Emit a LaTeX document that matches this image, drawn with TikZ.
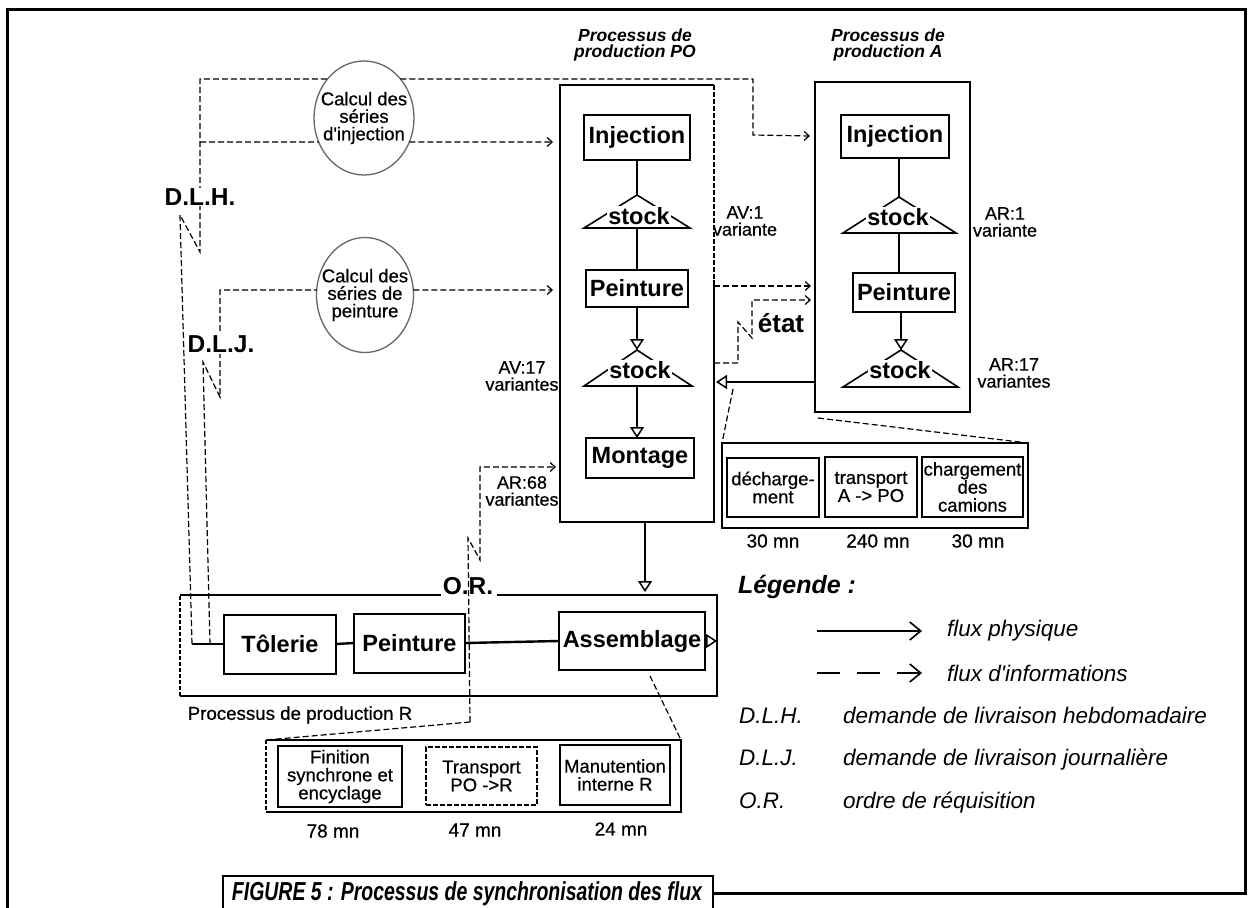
\documentclass[tikz,border=0pt]{standalone}
\usepackage{graphicx}
\usepackage{fontspec}
\setmainfont{Liberation Sans}
\newfontfamily\mediumsans[FakeBold=0.6]{Liberation Sans}
\usetikzlibrary{arrows.meta,shapes.geometric,calc}

\newcommand{\fsz}[2]{\fontsize{#1}{#2}\selectfont}

\begin{document}
\begin{tikzpicture}[x=1pt,y=-1pt,
  every node/.style={inner sep=0pt, outer sep=0pt},
  procbox/.style={draw, line width=2pt, fill=white, font=\fsz{23.5}{26}\bfseries},
  container/.style={line width=1.7pt},
  detailbox/.style={draw, line width=1.2pt, align=center, font=\mediumsans\fsz{18.5}{18}},
  stocklbl/.style={fill=white, inner xsep=1pt, inner ysep=1.5pt, font=\fsz{23.5}{26}\bfseries},
  stocktri/.style={line width=1.6pt, line join=miter},
  calcell/.style={ellipse, draw=black!60, line width=1.3pt, fill=white},
  calctxt/.style={align=center, font=\mediumsans\fsz{18.5}{17.5}},
  varlbl/.style={align=center, font=\mediumsans\fsz{18}{17}},
  bigcode/.style={fill=white, inner sep=1pt, font=\fsz{24.5}{26}\bfseries},
  proctitle/.style={align=center, font=\fsz{17.5}{16}\bfseries\itshape},
  dur/.style={font=\mediumsans\fsz{19}{20}},
  legtxt/.style={anchor=base west, font=\fsz{22.5}{24}\itshape},
  phys/.style={line width=2.4pt, -{Triangle[open, length=11pt, width=14pt, line width=1.5pt]}},
  physline/.style={line width=2.4pt},
  info/.style={line width=1.2pt, dash pattern=on 6pt off 3pt},
  infoarrow/.style={info, -{Straight Barb[length=5pt, width=9pt, line width=1.2pt]}},
]
\useasboundingbox (0,0) rectangle (1252,907);

% ---------- outer frame and caption ----------
\draw[line width=3pt] (7,910) -- (7,10) -- (1245,10) -- (1245,893) -- (713,893);
\draw[line width=2pt] (223,910) -- (223,876) -- (713,876) -- (713,910);
\node[anchor=base, font=\fsz{26}{28}\bfseries\itshape] (caption) at (467,900)
  {\resizebox{470pt}{\height}{FIGURE 5 : Processus de synchronisation des flux}};

% ---------- process PO ----------
\node (po) [minimum width=154pt, minimum height=437pt] at (637,303.5) {};
\draw[container] (714,280) -- (po.south east) -- (po.south west) -- (po.north west) -- (po.north east);
\draw[container, line width=1.2pt, dash pattern=on 5pt off 2pt] (po.north east) -- (714,280);
\node[proctitle] (potitle) at (635,45) {Processus de\\production PO};

\node[procbox, minimum width=106pt, minimum height=45pt] (poinj) at (637,137.5) {Injection};
\coordinate (pos1a) at (637,195);
\coordinate (pos1b) at (637,228);
\draw[stocktri] (pos1a) -- (584,228) -- (690,228) -- cycle;
\node[stocklbl] (pos1) at (639,216) {stock};
\node[procbox, minimum width=102pt, minimum height=37pt] (popein) at (637,288.5) {Peinture};
\coordinate (pos2a) at (637,350);
\coordinate (pos2b) at (637,386);
\draw[stocktri] (pos2a) -- (584,386) -- (692,386) -- cycle;
\node[stocklbl] (pos2) at (640,370) {stock};
\node[procbox, minimum width=108pt, minimum height=40pt] (pomont) at (640,458) {Montage};

\draw[physline] (poinj.south) -- (pos1a);
\draw[physline] (pos1b) -- (popein.north);
\draw[phys] (popein.south) -- (pos2a);
\draw[phys] (pos2b) -- (pos2b |- pomont.north);

\node[varlbl] (av1) at (745,221) {AV:1\\variante};
\node[varlbl] (av17) at (522,376) {AV:17\\variantes};
\node[varlbl] (ar68) at (522,491) {AR:68\\variantes};

% ---------- process A ----------
\node (abox) [minimum width=155pt, minimum height=330pt] at (892.5,247) {};
\draw[container] (abox.north west) rectangle (abox.south east);
\node[proctitle] (atitle) at (888,45) {Processus de\\production A};

\node[procbox, minimum width=108pt, minimum height=43pt] (ainj) at (895,136.5) {Injection};
\coordinate (as1a) at (899,197);
\coordinate (as1b) at (899,233);
\draw[stocktri] (as1a) -- (843,233) -- (956,233) -- cycle;
\node[stocklbl] (as1) at (898,217) {stock};
\node[procbox, minimum width=102pt, minimum height=39pt] (apein) at (904,292.5) {Peinture};
\coordinate (as2a) at (901,350);
\draw[stocktri] (as2a) -- (843,387) -- (958,387) -- cycle;
\node[stocklbl] (as2) at (900,370) {stock};

\draw[physline] (ainj.south -| as1a) -- (as1a);
\draw[physline] (as1b) -- (as1b |- apein.north);
\draw[phys] (apein.south -| as2a) -- (as2a);

\node[varlbl] (ar1) at (1005,222) {AR:1\\variante};
\node[varlbl] (ar17) at (1014,373) {AR:17\\variantes};

% physical flow A -> PO
\coordinate (aOut) at (815,382);
\coordinate (poIn) at (716,382);
\draw[phys] (aOut) -- (poIn);

% ---------- detail A -> PO ----------
\node (adet) [minimum width=306pt, minimum height=85pt] at (875,485.5) {};
\draw[line width=1.7pt] (adet.north west) rectangle (adet.south east);
\node[detailbox, minimum width=92pt, minimum height=59pt] (dech) at (773,487.5) {décharge-\\ment};
\node[detailbox, minimum width=92pt, minimum height=60pt] (trA) at (871,487) {transport\\A -> PO};
\node[detailbox, minimum width=101pt, minimum height=60pt] (charg) at (972.5,487) {chargement\\des\\camions};
\node[dur] (dA1) at (773,541) {30 mn};
\node[dur] (dA2) at (878,541) {240 mn};
\node[dur] (dA3) at (978,541) {30 mn};
\coordinate (aZoomL) at (733,389);
\coordinate (aZoomR) at (818,418);
\draw[info] (aZoomL) -- (adet.north west);
\draw[info] (aZoomR) -- (adet.north east);

% ---------- process R ----------
\node (rbox) [minimum width=537pt, minimum height=101pt] at (448.5,645.5) {};
\draw[line width=2pt] (rbox.north west) -- (441,595);
\draw[line width=2pt] (497,595) -- (rbox.north east) -- (rbox.south east) -- (rbox.south west);
\draw[line width=1.2pt, dash pattern=on 4pt off 2pt] (rbox.south west) -- (rbox.north west);
\node[font=\mediumsans\fsz{18.7}{20}] (rlbl) at (300,715) {Processus de production R};

\node[procbox, minimum width=112pt, minimum height=59pt] (tol) at (280,644) {Tôlerie};
\node[procbox, minimum width=111pt, minimum height=59pt] (rpein) at (409.5,643) {Peinture};
\node[procbox, minimum width=146pt, minimum height=58pt] (asm) at (632,641) {Assemblage};
\coordinate (rOut) at (717,641);
\coordinate (rIn) at (645,592);
\coordinate (dlhFoot) at (192,644);

\draw[physline] (dlhFoot) -- (tol.west);
\draw[physline] (tol.east) -- (rpein.west);
\draw[physline] (rpein.east) -- (asm.west);
\draw[phys] (asm.east) -- (rOut);
\draw[phys] (po.south -| rIn) -- (rIn);

% ---------- detail PO -> R ----------
\node (bdet) [minimum width=415pt, minimum height=72pt] at (473.5,776) {};
\draw[line width=1.7pt] (bdet.south west) -- (bdet.south east) -- (bdet.north east) -- (bdet.north west);
\draw[line width=1.2pt, dash pattern=on 4pt off 2pt] (bdet.north west) -- (bdet.south west);
\node[detailbox, minimum width=124pt, minimum height=61pt] (fin) at (340,776.5) {Finition\\synchrone et\\encyclage};
\node[detailbox, dash pattern=on 5pt off 2pt, minimum width=111pt, minimum height=58pt] (trR) at (481.5,776) {Transport\\PO ->R};
\node[detailbox, minimum width=110pt, minimum height=60pt] (manu) at (615,775) {Manutention\\interne R};
\node[dur] (dR1) at (333,831) {78 mn};
\node[dur] (dR2) at (475,830) {47 mn};
\node[dur] (dR3) at (621,829) {24 mn};

% ---------- ellipses ----------
\node[calcell, minimum width=100pt, minimum height=114pt] (e1) at (364,118) {};
\node[calctxt] (e1t) at (e1.center) {Calcul des\\séries\\d\textquotesingle injection};
\node[calcell, minimum width=97pt, minimum height=115pt] (e2) at (365,295) {};
\node[calctxt] (e2t) at (e2.center) {Calcul des\\séries de\\peinture};

% ---------- information flows ----------
% weekly delivery request
\coordinate (dlhTop) at (200,79);
\coordinate (dlhMid) at (200,142);
\coordinate (dlhZa) at (200,252);
\coordinate (dlhZb) at (180,215);
\draw[info] (dlhFoot) -- (dlhZb) -- (dlhZa) -- (dlhTop) -- (e1.133);
\draw[info] (dlhMid) -- (e1.208);
\node[bigcode] (dlh) at (200,197) {D.L.H.};

\coordinate (aTurn1) at (753,79);
\coordinate (aTurn2) at (753,135);
\coordinate (aIn1) at (810,136);
\draw[infoarrow] (e1.47) -- (aTurn1) -- (aTurn2) -- (aIn1);
\coordinate (poIn1) at (553,142);
\draw[infoarrow] (e1.332) -- (poIn1);

% daily delivery request
\coordinate (dljTop) at (220,290);
\coordinate (dljZa) at (220,397);
\coordinate (dljZb) at (203,362);
\coordinate (dljFoot) at (210,644);
\draw[info] (dljFoot) -- (dljZb) -- (dljZa) -- (dljTop) -- (e2.174);
\node[bigcode] (dlj) at (221,344) {D.L.J.};
\coordinate (poIn2) at (553,290);
\draw[infoarrow] (e2.6) -- (poIn2);

% requisition order
\coordinate (orTop) at (480,467);
\coordinate (orZa) at (480,560);
\coordinate (orZb) at (468,538);
\coordinate (orFoot) at (470,722);
\coordinate (orIn) at (556,467);
\draw[infoarrow] (orFoot) -- (orZb) -- (orZa) -- (orTop) -- (orIn);
\draw[info] (orFoot) -- (bdet.north west);
\coordinate (asmFoot) at (650,676);
\draw[info] (asmFoot) -- (bdet.north east);
\node[font=\fsz{24.5}{26}\bfseries] (orlbl) at (468,586) {O.R.};

% PO -> A information
\coordinate (poOut2) at (714,286);
\coordinate (aIn2) at (811,286);
\draw[infoarrow] (poOut2) -- (aIn2);
\coordinate (etS) at (714,363);
\coordinate (etA) at (738,363);
\coordinate (etB) at (738,322);
\coordinate (etC) at (752,338);
\coordinate (etD) at (752,300);
\coordinate (etE) at (811,300);
\draw[infoarrow] (etS) -- (etA) -- (etB) -- (etC) -- (etD) -- (etE);
\node[fill=white, inner sep=1pt, font=\fsz{26}{28}\bfseries] (etat) at (781,323) {état};

% ---------- legend ----------
\node[anchor=base west, font=\fsz{25}{27}\bfseries\itshape] (leg) at (738,593) {Légende~:};
\coordinate (l1a) at (817,631);
\coordinate (l1b) at (922,631);
\draw[line width=1.8pt, -{Straight Barb[length=11pt, width=18pt, line width=1.6pt]}] (l1a) -- (l1b);
\node[legtxt] (l1t) at (947,636) {flux physique};
\coordinate (l2a) at (817,673);
\coordinate (l2b) at (922,673);
\draw[line width=1.8pt, dash pattern=on 23pt off 17pt, -{Straight Barb[length=11pt, width=18pt, line width=1.6pt]}] (l2a) -- (l2b);
\node[legtxt] (l2t) at (947,681) {flux d\textquotesingle informations};
\node[legtxt] (k1) at (739,723) {D.L.H.};
\node[legtxt] (k1t) at (843,723) {demande de livraison hebdomadaire};
\node[legtxt] (k2) at (739,765) {D.L.J.};
\node[legtxt] (k2t) at (843,765) {demande de livraison journalière};
\node[legtxt] (k3) at (739,808) {O.R.};
\node[legtxt] (k3t) at (843,808) {ordre de réquisition};
\end{tikzpicture}
\end{document}
